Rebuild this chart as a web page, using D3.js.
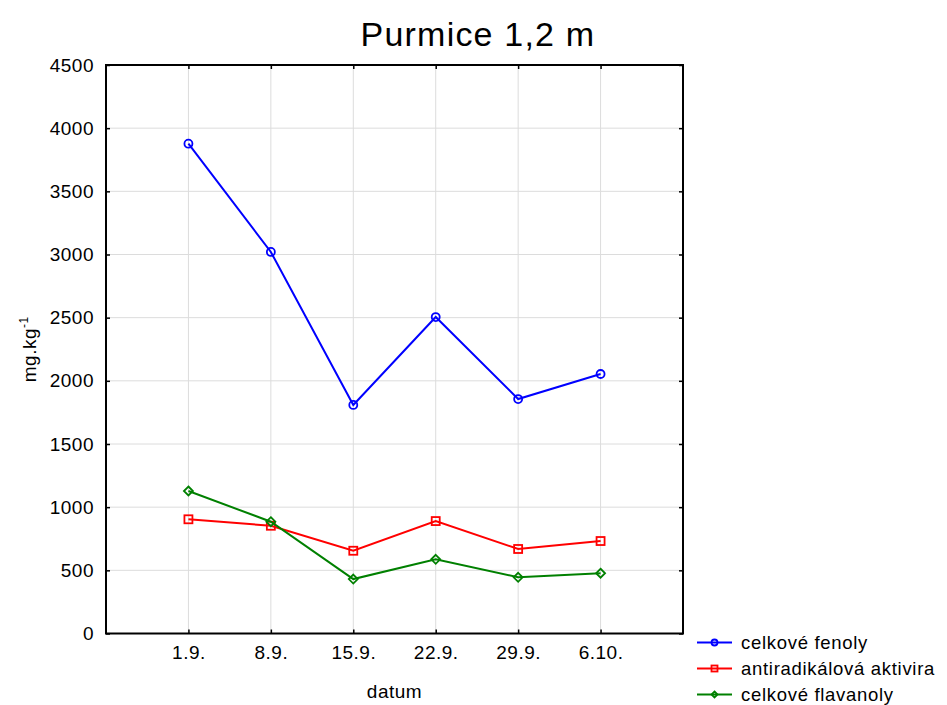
<html>
<head>
<meta charset="utf-8">
<style>
    body { margin: 0; background: #fff; }
    svg { font-family: Arial, 'Liberation Sans', sans-serif; }
    .grid line { stroke: #dcdcdc; stroke-width: 1; }
    .axis .domain { display: none; }
    .axis line { stroke: #000; stroke-width: 1.5; }
    .axis text { font-size: 19px; letter-spacing: 0.5px; fill: #000; }
    .legend text { font-size: 18.5px; letter-spacing: 0.7px; fill: #000; }
</style>
</head>
<body>
<svg width="947" height="705"></svg>
<script src="https://d3js.org/d3.v7.min.js"></script>
<script>

let dates = ["1.9.", "8.9.", "15.9.", "22.9.", "29.9.", "6.10."]
let yTicks = [0, 500, 1000, 1500, 2000, 2500, 3000, 3500, 4000, 4500]

let fenoly = [3877, 3020, 1809, 2505, 1856, 2054]
let aktivita = [904, 853, 655, 890, 669, 732]
let flavanoly = [1128, 885, 431, 587, 445, 477]

let seriesNames = ["celkové fenoly", "antiradikálová aktivira", "celkové flavanoly"]
let seriesColors = ["#0000ff", "#ff0000", "#008000"]
let seriesMarkers = ["circle", "square", "diamond"]

let width = 947
let height = 705
let margin = {top: 65, right: 264, bottom: 71.5, left: 106}

let svg = d3.select("svg")

let x = d3.scalePoint()
    .domain(dates)
    .range([margin.left, width - margin.right])
    .padding(1)

let y = d3.scaleLinear()
    .domain([0, 4500])
    .range([height - margin.bottom, margin.top])

// grid
let grid = svg.append("g").attr("class", "grid")
grid.selectAll(".hg")
    .data(yTicks.slice(1, -1))
    .join("line")
    .attr("x1", margin.left).attr("x2", width - margin.right)
    .attr("y1", d => y(d)).attr("y2", d => y(d))
grid.selectAll(".vg")
    .data(dates)
    .join("line")
    .attr("class", "vg")
    .attr("x1", d => x(d)).attr("x2", d => x(d))
    .attr("y1", margin.top).attr("y2", height - margin.bottom)

// axes (ticks pointing inward)
svg.append("g")
    .attr("class", "axis")
    .attr("transform", `translate(${margin.left},0)`)
    .call(d3.axisLeft(y).tickValues(yTicks).tickFormat(d3.format("d")).tickSizeInner(-4).tickSizeOuter(0).tickPadding(12))

svg.append("g")
    .attr("class", "axis")
    .attr("transform", `translate(${width - margin.right},0)`)
    .call(d3.axisRight(y).tickValues(yTicks).tickSizeInner(-4).tickSizeOuter(0).tickFormat(""))

svg.append("g")
    .attr("class", "axis")
    .attr("transform", `translate(0,${height - margin.bottom})`)
    .call(d3.axisBottom(x).tickSizeInner(-4).tickSizeOuter(0).tickPadding(12))

svg.append("g")
    .attr("class", "axis")
    .attr("transform", `translate(0,${margin.top})`)
    .call(d3.axisTop(x).tickSizeInner(-4).tickSizeOuter(0).tickFormat(""))

// frame
svg.append("rect")
    .attr("x", margin.left).attr("y", margin.top)
    .attr("width", width - margin.right - margin.left)
    .attr("height", height - margin.bottom - margin.top)
    .style("fill", "none").style("stroke", "#000").style("stroke-width", 2)

// titles
svg.append("text")
    .attr("x", 478).attr("y", 46)
    .attr("text-anchor", "middle")
    .style("font-size", "34px").style("letter-spacing", "1.2px")
    .text("Purmice 1,2 m")

svg.append("text")
    .attr("x", (margin.left + width - margin.right) / 2).attr("y", 698)
    .attr("text-anchor", "middle")
    .style("font-size", "19px").style("letter-spacing", "0.5px")
    .text("datum")

let yt = svg.append("text")
    .attr("transform", `translate(36,${(margin.top + height - margin.bottom) / 2}) rotate(-90)`)
    .attr("text-anchor", "middle")
    .style("font-size", "19px").style("letter-spacing", "0.5px")
yt.append("tspan").text("mg.kg")
yt.append("tspan").attr("dy", -8).style("font-size", "12px").text("-1")

// markers
function drawMarker(g, type, color, size) {
    if (type == "circle") {
        g.append("circle").attr("r", size).style("fill", "none").style("stroke", color).style("stroke-width", 1.8)
    } else if (type == "square") {
        g.append("rect").attr("x", -size).attr("y", -size).attr("width", size * 2).attr("height", size * 2)
            .style("fill", "none").style("stroke", color).style("stroke-width", 1.8)
    } else {
        g.append("path").attr("d", `M0,${-size}L${size},0L0,${size}L${-size},0Z`)
            .style("fill", "none").style("stroke", color).style("stroke-width", 1.8)
    }
}

let seriesData = [fenoly, aktivita, flavanoly]
let line = d3.line()
    .x((d, i) => x(dates[i]))
    .y(d => y(d))

seriesData.forEach((vals, s) => {
    svg.append("path")
        .datum(vals)
        .attr("d", line)
        .style("fill", "none")
        .style("stroke", seriesColors[s])
        .style("stroke-width", 2)
    vals.forEach((v, i) => {
        let g = svg.append("g").attr("transform", `translate(${x(dates[i])},${y(v)})`)
        drawMarker(g, seriesMarkers[s], seriesColors[s], s == 2 ? 4.5 : 4)
    })
})

// legend
let legend = svg.append("g").attr("class", "legend")
seriesNames.forEach((name, s) => {
    let ly = 642.5 + s * 26
    legend.append("line")
        .attr("x1", 697).attr("x2", 732).attr("y1", ly).attr("y2", ly)
        .style("stroke", seriesColors[s]).style("stroke-width", 2)
    let g = legend.append("g").attr("transform", `translate(714.5,${ly})`)
    drawMarker(g, seriesMarkers[s], seriesColors[s], 3)
    legend.append("text")
        .attr("x", 741).attr("y", ly + 6)
        .text(name)
})

</script>
</body>
</html>
